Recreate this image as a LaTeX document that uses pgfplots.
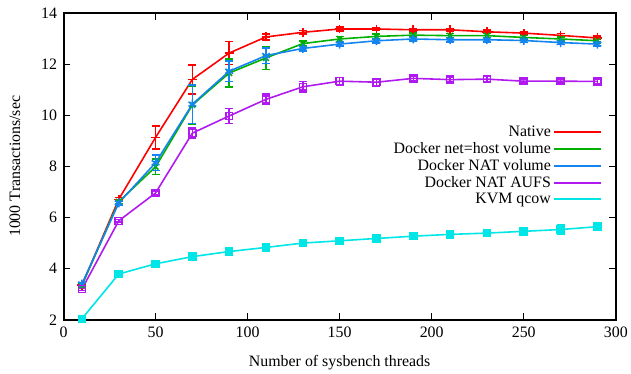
\documentclass[border=0pt]{standalone}
\usepackage{pgfplots}
\pgfplotsset{compat=1.18}
\usepackage{pgfplotstable}
\usepackage{fontspec}
\setmainfont{Liberation Serif}
\definecolor{cNat}{HTML}{FF0000}
\definecolor{cHost}{HTML}{00B000}
\definecolor{cVol}{HTML}{1484F0}
\definecolor{cAufs}{HTML}{B01AF0}
\definecolor{cKvm}{HTML}{00E6E6}
\pgfplotstableread{
x y e
10 3.35 0.05
30 6.71 0.08
50 9.13 0.45
70 11.40 0.57
90 12.43 0.45
110 13.06 0.12
130 13.24 0.07
150 13.37 0.07
170 13.37 0.05
190 13.34 0.05
210 13.34 0.05
230 13.26 0.07
250 13.21 0.05
270 13.12 0.07
290 13.02 0.07
}\native
\pgfplotstableread{
x y e
10 3.35 0.05
30 6.62 0.08
50 7.98 0.3
70 10.40 0.75
90 11.65 0.55
110 12.24 0.45
130 12.80 0.1
150 12.98 0.1
170 13.08 0.1
190 13.13 0.08
210 13.11 0.08
230 13.11 0.08
250 13.04 0.08
270 12.98 0.08
290 12.91 0.08
}\hostvol
\pgfplotstableread{
x y e
10 3.40 0.05
30 6.57 0.1
50 8.14 0.3
70 10.43 0.75
90 11.72 0.4
110 12.33 0.3
130 12.61 0.1
150 12.78 0.08
170 12.91 0.08
190 12.98 0.08
210 12.95 0.08
230 12.95 0.08
250 12.92 0.08
270 12.84 0.08
290 12.78 0.08
}\natvol
\pgfplotstableread{
x y e
10 3.20 0.05
30 5.87 0.05
50 6.96 0.08
70 9.30 0.2
90 9.97 0.3
110 10.62 0.2
130 11.11 0.2
150 11.33 0.15
170 11.29 0.15
190 11.44 0.08
210 11.39 0.1
230 11.41 0.1
250 11.33 0.08
270 11.33 0.08
290 11.32 0.08
}\nataufs
\pgfplotstableread{
x y e
10 2.04 0.03
30 3.79 0.05
50 4.19 0.05
70 4.47 0.05
90 4.67 0.05
110 4.83 0.05
130 5.00 0.08
150 5.09 0.08
170 5.18 0.08
190 5.27 0.08
210 5.34 0.12
230 5.39 0.1
250 5.46 0.12
270 5.53 0.18
290 5.64 0.12
}\kvm
\begin{document}
\begin{tikzpicture}
\begin{axis}[
  width=556pt, height=309pt, scale only axis,
  xmin=0, xmax=300, ymin=2, ymax=14,
  xtick={0,50,...,300}, ytick={2,4,...,14},
  tick align=inside, major tick length=7pt,
  tick style={black, line width=0.9pt},
  axis line style={black, line width=2pt},
  /pgf/number format/assume math mode=true,
  font=\fontsize{16}{18}\selectfont,
  ticklabel style={font=\fontsize{16}{18}\selectfont},
  xticklabel style={yshift=-4pt},
  yticklabel style={xshift=-3pt},
  xlabel={Number of sysbench threads},
  ylabel={1000 Transactions/sec},
  xlabel style={at={(rel axis cs:0.5,-0.139)}, anchor=center},
  ylabel style={at={(rel axis cs:-0.088,0.5)}, anchor=center},
  clip=false,
  every axis plot/.append style={line width=1.6pt},
  error bars/y dir=both, error bars/y explicit,
  error bars/error mark options={rotate=90, mark size=4pt, line width=1.5pt},
  legend plot pos=right,
  legend cell align=right,
  legend style={draw=none, fill=none, at={(rel axis cs:0.98,0.645)}, anchor=north east,
     font=\fontsize{16}{18}\selectfont, row sep=0.5pt},
  legend image code/.code={\draw[#1, mark=none, line width=2pt] (0pt,0pt) -- (47pt,0pt);},
]
\addplot[color=cNat, mark=+, mark size=4.5pt, error bars/error bar style={color=cNat, line width=1.5pt}] table[x=x, y=y, y error=e]{\native};
\addlegendentry{Native}
\addplot[color=cHost, mark=x, mark size=4pt, error bars/error bar style={color=cHost, line width=1.5pt}] table[x=x, y=y, y error=e]{\hostvol};
\addlegendentry{Docker net=host volume}
\addplot[color=cVol, mark=asterisk, mark size=4.5pt, error bars/error bar style={color=cVol, line width=1.5pt}] table[x=x, y=y, y error=e]{\natvol};
\addlegendentry{Docker NAT volume}
\addplot[color=cAufs, mark=square, mark size=3.5pt, error bars/error bar style={color=cAufs, line width=1.5pt}] table[x=x, y=y, y error=e]{\nataufs};
\addlegendentry{Docker NAT AUFS}
\addplot[color=cKvm, mark=square*, mark size=3.5pt, error bars/error bar style={color=cKvm, line width=1.5pt}] table[x=x, y=y, y error=e]{\kvm};
\addlegendentry{KVM qcow}
\path (rel axis cs:-0.115,-0.168) (rel axis cs:1.0198,1.042);
\end{axis}
\end{tikzpicture}
\end{document}
